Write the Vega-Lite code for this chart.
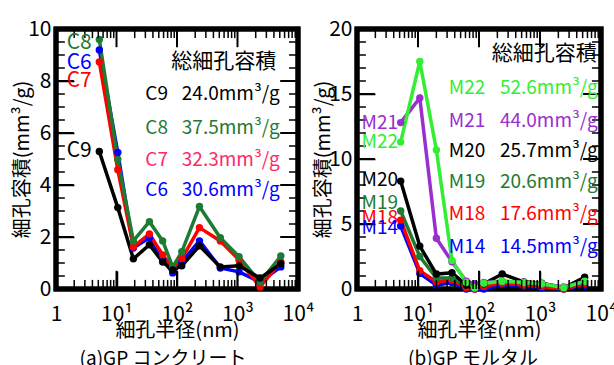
{
  "$schema": "https://vega.github.io/schema/vega-lite/v6.json",
  "padding": {"left": 10, "top": 15, "right": 0, "bottom": 0},
  "spacing": 59,
  "bounds": "flush",
  "resolve": {"scale": {"color": "independent"}},
  "config": {
    "font": "Noto Sans CJK JP",
    "view": {"stroke": "#000000", "strokeWidth": 5},
    "style": {"cell": {"stroke": "#000000", "strokeWidth": 5}},
    "axis": {"grid": false, "domain": false, "ticks": true, "tickOpacity": 1, "tickColor": "#000000", "tickWidth": 1.5, "labelColor": "black", "titleColor": "black", "labelFontSize": 21, "titleFontSize": 20, "titleFontWeight": "normal", "labelOverlap": false, "labelFlush": false, "labelBound": false},
    "text": {"font": "Noto Sans CJK JP"},
    "title": {"font": "Noto Sans CJK JP", "fontWeight": "normal", "fontSize": 19, "color": "black"}
  },
  "datasets": {
    "xMaj": [{"v":10},{"v":100},{"v":1000}],
    "xMin": [{"v":2},{"v":3},{"v":4},{"v":5},{"v":6},{"v":7},{"v":8},{"v":9},{"v":20},{"v":30},{"v":40},{"v":50},{"v":60},{"v":70},{"v":80},{"v":90},{"v":200},{"v":300},{"v":400},{"v":500},{"v":600},{"v":700},{"v":800},{"v":900},{"v":2000},{"v":3000},{"v":4000},{"v":5000},{"v":6000},{"v":7000},{"v":8000},{"v":9000}],
    "yMajA": [{"v":2},{"v":4},{"v":6},{"v":8}],
    "yMinA": [{"v":0.5},{"v":1},{"v":1.5},{"v":2.5},{"v":3},{"v":3.5},{"v":4.5},{"v":5},{"v":5.5},{"v":6.5},{"v":7},{"v":7.5},{"v":8.5},{"v":9},{"v":9.5}],
    "yMajB": [{"v":5},{"v":10},{"v":15}],
    "yMinB": [{"v":1},{"v":2},{"v":3},{"v":4},{"v":6},{"v":7},{"v":8},{"v":9},{"v":11},{"v":12},{"v":13},{"v":14},{"v":16},{"v":17},{"v":18},{"v":19}],
    "a": [
      {"s":"C6","r":5.2,"v":9.19},{"s":"C6","r":10.5,"v":5.25},{"s":"C6","r":19,"v":1.58},{"s":"C6","r":35,"v":1.97},{"s":"C6","r":58,"v":1.12},{"s":"C6","r":85,"v":0.62},{"s":"C6","r":120,"v":1.04},{"s":"C6","r":235,"v":1.85},{"s":"C6","r":520,"v":0.81},{"s":"C6","r":1060,"v":0.66},{"s":"C6","r":2350,"v":0.27},{"s":"C6","r":5200,"v":0.85},
      {"s":"C7","r":5.2,"v":8.73},{"s":"C7","r":10.5,"v":4.59},{"s":"C7","r":19,"v":1.62},{"s":"C7","r":35,"v":2.12},{"s":"C7","r":58,"v":1.31},{"s":"C7","r":85,"v":0.81},{"s":"C7","r":120,"v":1.16},{"s":"C7","r":235,"v":2.36},{"s":"C7","r":520,"v":1.85},{"s":"C7","r":1060,"v":1.12},{"s":"C7","r":2350,"v":0.08},{"s":"C7","r":5200,"v":1.04},
      {"s":"C8","r":5.2,"v":9.6},{"s":"C8","r":10.5,"v":4.98},{"s":"C8","r":19,"v":1.85},{"s":"C8","r":35,"v":2.59},{"s":"C8","r":58,"v":1.85},{"s":"C8","r":85,"v":0.85},{"s":"C8","r":120,"v":1.43},{"s":"C8","r":235,"v":3.17},{"s":"C8","r":520,"v":1.97},{"s":"C8","r":1060,"v":1.24},{"s":"C8","r":2350,"v":0.27},{"s":"C8","r":5200,"v":1.27},
      {"s":"C9","r":5.2,"v":5.29},{"s":"C9","r":10.5,"v":3.13},{"s":"C9","r":19,"v":1.16},{"s":"C9","r":35,"v":1.7},{"s":"C9","r":58,"v":1.04},{"s":"C9","r":85,"v":0.73},{"s":"C9","r":120,"v":0.89},{"s":"C9","r":235,"v":1.66},{"s":"C9","r":520,"v":0.85},{"s":"C9","r":1060,"v":0.89},{"s":"C9","r":2350,"v":0.42},{"s":"C9","r":5200,"v":0.97}
    ],
    "aLab": [
      {"s":"C8","t":"C8","y":9.46},{"s":"C6","t":"C6","y":8.69},{"s":"C7","t":"C7","y":8.0},{"s":"C9","t":"C9","y":5.29}
    ],
    "aLeg": [
      {"s":"C9","n":"C9","t":"24.0mm³/g","y":7.49},
      {"s":"C8","n":"C8","t":"37.5mm³/g","y":6.2},
      {"s":"C7L","n":"C7","t":"32.3mm³/g","y":4.98},
      {"s":"C6","n":"C6","t":"30.6mm³/g","y":3.82}
    ],
    "b": [
      {"s":"M14","r":5.2,"v":4.85},{"s":"M14","r":10.7,"v":1.2},{"s":"M14","r":20,"v":0.3},{"s":"M14","r":36,"v":0.5},{"s":"M14","r":62,"v":0.0},{"s":"M14","r":85,"v":0.0},{"s":"M14","r":120,"v":0.0},{"s":"M14","r":240,"v":0.35},{"s":"M14","r":540,"v":0.2},{"s":"M14","r":1070,"v":0.1},{"s":"M14","r":2450,"v":0.0},{"s":"M14","r":5400,"v":0.25},
      {"s":"M18","r":5.2,"v":5.3},{"s":"M18","r":10.7,"v":1.4},{"s":"M18","r":20,"v":0.55},{"s":"M18","r":36,"v":0.7},{"s":"M18","r":62,"v":0.1},{"s":"M18","r":85,"v":0.0},{"s":"M18","r":120,"v":0.2},{"s":"M18","r":240,"v":0.45},{"s":"M18","r":540,"v":0.3},{"s":"M18","r":1070,"v":0.2},{"s":"M18","r":2450,"v":0.0},{"s":"M18","r":5400,"v":0.4},
      {"s":"M19","r":5.2,"v":6.0},{"s":"M19","r":10.7,"v":2.5},{"s":"M19","r":20,"v":0.85},{"s":"M19","r":36,"v":0.85},{"s":"M19","r":62,"v":0.3},{"s":"M19","r":85,"v":0.05},{"s":"M19","r":120,"v":0.45},{"s":"M19","r":240,"v":0.6},{"s":"M19","r":540,"v":0.5},{"s":"M19","r":1070,"v":0.4},{"s":"M19","r":2450,"v":0.1},{"s":"M19","r":5400,"v":0.6},
      {"s":"M20","r":5.2,"v":8.3},{"s":"M20","r":10.7,"v":3.3},{"s":"M20","r":20,"v":1.15},{"s":"M20","r":36,"v":1.25},{"s":"M20","r":62,"v":0.3},{"s":"M20","r":85,"v":0.15},{"s":"M20","r":120,"v":0.4},{"s":"M20","r":240,"v":1.15},{"s":"M20","r":540,"v":0.55},{"s":"M20","r":1070,"v":0.45},{"s":"M20","r":2450,"v":0.1},{"s":"M20","r":5400,"v":0.9},
      {"s":"M21","r":5.2,"v":12.8},{"s":"M21","r":10.7,"v":14.7},{"s":"M21","r":20,"v":3.9},{"s":"M21","r":36,"v":2.1},{"s":"M21","r":62,"v":0.6},{"s":"M21","r":85,"v":0.4},{"s":"M21","r":120,"v":0.5},{"s":"M21","r":240,"v":0.6},{"s":"M21","r":540,"v":0.5},{"s":"M21","r":1070,"v":0.4},{"s":"M21","r":2450,"v":0.15},{"s":"M21","r":5400,"v":0.55},
      {"s":"M22","r":5.2,"v":11.3},{"s":"M22","r":10.7,"v":17.5},{"s":"M22","r":20,"v":10.7},{"s":"M22","r":36,"v":2.2},{"s":"M22","r":62,"v":0.5},{"s":"M22","r":85,"v":0.1},{"s":"M22","r":120,"v":0.45},{"s":"M22","r":240,"v":0.6},{"s":"M22","r":540,"v":0.5},{"s":"M22","r":1070,"v":0.4},{"s":"M22","r":2450,"v":0.1},{"s":"M22","r":5400,"v":0.6}
    ],
    "bLab": [
      {"s":"M21","t":"M21","y":12.8},{"s":"M22","t":"M22","y":11.3},{"s":"M20","t":"M20","y":8.4},{"s":"M19","t":"M19","y":6.6},{"s":"M18","t":"M18","y":5.5},{"s":"M14","t":"M14","y":4.7}
    ],
    "bLeg": [
      {"s":"M22","n":"M22","t":"52.6mm³/g","y":15.5},
      {"s":"M21","n":"M21","t":"44.0mm³/g","y":12.9},
      {"s":"M20","n":"M20","t":"25.7mm³/g","y":10.6},
      {"s":"M19","n":"M19","t":"20.6mm³/g","y":8.2},
      {"s":"M18","n":"M18","t":"17.6mm³/g","y":5.8},
      {"s":"M14","n":"M14","t":"14.5mm³/g","y":3.2}
    ]
  },
  "hconcat": [
    {
      "width": 242, "height": 260,
      "view": {"stroke": "#000000", "strokeWidth": 5},
      "title": {"text": "(a)GP コンクリート", "orient": "bottom", "offset": 10, "dx": -14},
      "resolve": {"axis": {"x": "independent", "y": "independent"}},
      "layer": [
        {
          "data": {"values": [{"k": 1}]},
          "mark": {"type": "rect", "filled": false, "stroke": "#000000", "strokeWidth": 5},
          "encoding": {
            "x": {"datum": 1, "type": "quantitative", "scale": {"type": "log", "domain": [1, 10000]},
              "axis": {"orient": "bottom", "title": null, "labels": false, "values": [1,10,100,1000,10000], "offset": -18, "tickSize": 18, "tickColor": "#000000"}},
            "x2": {"datum": 10000},
            "y": {"datum": 0, "type": "quantitative", "scale": {"domain": [0, 10]},
              "axis": {"orient": "left", "title": null, "labels": false, "values": [0,2,4,6,8,10], "offset": -18, "tickSize": 18, "tickColor": "#000000"}},
            "y2": {"datum": 10}
          }
        },
        {
          "data": {"name": "a"},
          "mark": {"type": "line", "strokeWidth": 3.5, "point": {"filled": true, "size": 55, "opacity": 1}},
          "encoding": {
            "x": {"field": "r", "type": "quantitative",
              "axis": {"orient": "bottom", "title": "細孔半径(nm)", "values": [1,10,100,1000,10000], "ticks": false, "tickSize": 0,
                "labelExpr": "datum.value==1?'1':datum.value==10?'10¹':datum.value==100?'10²':datum.value==1000?'10³':'10⁴'",
                "labelPadding": 14, "titlePadding": -4}},
            "y": {"field": "v", "type": "quantitative",
              "axis": {"orient": "left", "title": "細孔容積(mm³/g)", "values": [0,2,4,6,8,10], "ticks": false, "tickSize": 0,
                "labelPadding": 5, "titlePadding": -5}},
            "color": {"field": "s", "type": "nominal", "legend": null,
              "scale": {"domain": ["C6","C7","C8","C9","C7L"], "range": ["#0000ff","#ff0000","#1e7b32","#000000","#ff2a68"]}}
          }
        },
        {"data": {"name": "xMaj"}, "mark": {"type": "rule", "color": "black", "strokeWidth": 2},
         "encoding": {"x": {"field": "v", "type": "quantitative", "axis": {"orient": "bottom", "title": null, "labels": false, "ticks": false, "values": [10]}}, "y": {"datum": 0, "type": "quantitative", "axis": {"orient": "left", "title": null, "labels": false, "ticks": false, "values": [2]}}, "y2": {"datum": 0.7}}},
        {"data": {"name": "xMin"}, "mark": {"type": "rule", "color": "black", "strokeWidth": 1.5},
         "encoding": {"x": {"field": "v", "type": "quantitative", "axis": {"orient": "bottom", "title": null, "labels": false, "ticks": false, "values": [10]}}, "y": {"datum": 0, "type": "quantitative", "axis": {"orient": "left", "title": null, "labels": false, "ticks": false, "values": [2]}}, "y2": {"datum": 0.35}}},
        {"data": {"name": "xMaj"}, "mark": {"type": "rule", "color": "black", "strokeWidth": 2},
         "encoding": {"x": {"field": "v", "type": "quantitative", "axis": {"orient": "bottom", "title": null, "labels": false, "ticks": false, "values": [10]}}, "y": {"datum": 10, "type": "quantitative", "axis": {"orient": "left", "title": null, "labels": false, "ticks": false, "values": [2]}}, "y2": {"datum": 9.3}}},
        {"data": {"name": "xMin"}, "mark": {"type": "rule", "color": "black", "strokeWidth": 1.5},
         "encoding": {"x": {"field": "v", "type": "quantitative", "axis": {"orient": "bottom", "title": null, "labels": false, "ticks": false, "values": [10]}}, "y": {"datum": 10, "type": "quantitative", "axis": {"orient": "left", "title": null, "labels": false, "ticks": false, "values": [2]}}, "y2": {"datum": 9.65}}},
        {"data": {"name": "yMajA"}, "mark": {"type": "rule", "color": "black", "strokeWidth": 2},
         "encoding": {"y": {"field": "v", "type": "quantitative", "axis": {"orient": "left", "title": null, "labels": false, "ticks": false, "values": [2]}}, "x": {"datum": 1, "type": "quantitative", "axis": {"orient": "bottom", "title": null, "labels": false, "ticks": false, "values": [10]}}, "x2": {"datum": 1.97}}},
        {"data": {"name": "yMinA"}, "mark": {"type": "rule", "color": "black", "strokeWidth": 1.5},
         "encoding": {"y": {"field": "v", "type": "quantitative", "axis": {"orient": "left", "title": null, "labels": false, "ticks": false, "values": [2]}}, "x": {"datum": 1, "type": "quantitative", "axis": {"orient": "bottom", "title": null, "labels": false, "ticks": false, "values": [10]}}, "x2": {"datum": 1.4}}},
        {"data": {"name": "yMajA"}, "mark": {"type": "rule", "color": "black", "strokeWidth": 2},
         "encoding": {"y": {"field": "v", "type": "quantitative", "axis": {"orient": "left", "title": null, "labels": false, "ticks": false, "values": [2]}}, "x": {"datum": 10000, "type": "quantitative", "axis": {"orient": "bottom", "title": null, "labels": false, "ticks": false, "values": [10]}}, "x2": {"datum": 5080}}},
        {"data": {"name": "yMinA"}, "mark": {"type": "rule", "color": "black", "strokeWidth": 1.5},
         "encoding": {"y": {"field": "v", "type": "quantitative", "axis": {"orient": "left", "title": null, "labels": false, "ticks": false, "values": [2]}}, "x": {"datum": 10000, "type": "quantitative", "axis": {"orient": "bottom", "title": null, "labels": false, "ticks": false, "values": [10]}}, "x2": {"datum": 7100}}},
        {
          "data": {"name": "aLab"},
          "mark": {"type": "text", "align": "right", "baseline": "middle", "fontSize": 21},
          "encoding": {
            "x": {"datum": 3.9, "type": "quantitative", "axis": null},
            "y": {"field": "y", "type": "quantitative", "axis": null},
            "text": {"field": "t"},
            "color": {"field": "s", "type": "nominal", "legend": null}
          }
        },
        {
          "data": {"name": "aLeg"},
          "mark": {"type": "text", "align": "left", "baseline": "middle", "fontSize": 19},
          "encoding": {
            "x": {"datum": 30, "type": "quantitative", "axis": null},
            "y": {"field": "y", "type": "quantitative", "axis": null},
            "text": {"field": "n"},
            "color": {"field": "s", "type": "nominal", "legend": null}
          }
        },
        {
          "data": {"name": "aLeg"},
          "mark": {"type": "text", "align": "left", "baseline": "middle", "fontSize": 19},
          "encoding": {
            "x": {"datum": 120, "type": "quantitative", "axis": null},
            "y": {"field": "y", "type": "quantitative", "axis": null},
            "text": {"field": "t"},
            "color": {"field": "s", "type": "nominal", "legend": null}
          }
        },
        {
          "data": {"values": [{"t": "総細孔容積"}]},
          "mark": {"type": "text", "align": "right", "baseline": "middle", "fontSize": 21, "color": "black"},
          "encoding": {
            "x": {"datum": 4370, "type": "quantitative", "axis": null},
            "y": {"datum": 8.72, "type": "quantitative", "axis": null},
            "text": {"field": "t"}
          }
        }
      ]
    },
    {
      "width": 244, "height": 260,
      "view": {"stroke": "#000000", "strokeWidth": 5},
      "title": {"text": "(b)GP モルタル", "orient": "bottom", "offset": 10, "dx": -6},
      "resolve": {"axis": {"x": "independent", "y": "independent"}},
      "layer": [
        {
          "data": {"values": [{"k": 1}]},
          "mark": {"type": "rect", "filled": false, "stroke": "#000000", "strokeWidth": 5},
          "encoding": {
            "x": {"datum": 1, "type": "quantitative", "scale": {"type": "log", "domain": [1, 10000]},
              "axis": {"orient": "bottom", "title": null, "labels": false, "values": [1,10,100,1000,10000], "offset": -18, "tickSize": 18, "tickColor": "#000000"}},
            "x2": {"datum": 10000},
            "y": {"datum": 0, "type": "quantitative", "scale": {"domain": [0, 20]},
              "axis": {"orient": "left", "title": null, "labels": false, "values": [0,5,10,15,20], "offset": -18, "tickSize": 18, "tickColor": "#000000"}},
            "y2": {"datum": 20}
          }
        },
        {
          "data": {"name": "b"},
          "mark": {"type": "line", "strokeWidth": 3.5, "point": {"filled": true, "size": 55, "opacity": 1}},
          "encoding": {
            "x": {"field": "r", "type": "quantitative",
              "axis": {"orient": "bottom", "title": "細孔半径(nm)", "values": [1,10,100,1000,10000], "ticks": false, "tickSize": 0,
                "labelExpr": "datum.value==1?'1':datum.value==10?'10¹':datum.value==100?'10²':datum.value==1000?'10³':'10⁴'",
                "labelPadding": 14, "titlePadding": -4}},
            "y": {"field": "v", "type": "quantitative",
              "axis": {"orient": "left", "title": "細孔容積(mm³/g)", "values": [0,5,10,15,20], "ticks": false, "tickSize": 0,
                "labelPadding": 5, "titlePadding": -5}},
            "color": {"field": "s", "type": "nominal", "legend": null,
              "scale": {"domain": ["M14","M18","M19","M20","M21","M22"], "range": ["#0000ff","#ff0000","#1e7b32","#000000","#9a2fd0","#33ee33"]}}
          }
        },
        {"data": {"name": "xMaj"}, "mark": {"type": "rule", "color": "black", "strokeWidth": 2},
         "encoding": {"x": {"field": "v", "type": "quantitative", "axis": {"orient": "bottom", "title": null, "labels": false, "ticks": false, "values": [10]}}, "y": {"datum": 0, "type": "quantitative", "axis": {"orient": "left", "title": null, "labels": false, "ticks": false, "values": [5]}}, "y2": {"datum": 1.4}}},
        {"data": {"name": "xMin"}, "mark": {"type": "rule", "color": "black", "strokeWidth": 1.5},
         "encoding": {"x": {"field": "v", "type": "quantitative", "axis": {"orient": "bottom", "title": null, "labels": false, "ticks": false, "values": [10]}}, "y": {"datum": 0, "type": "quantitative", "axis": {"orient": "left", "title": null, "labels": false, "ticks": false, "values": [5]}}, "y2": {"datum": 0.7}}},
        {"data": {"name": "xMaj"}, "mark": {"type": "rule", "color": "black", "strokeWidth": 2},
         "encoding": {"x": {"field": "v", "type": "quantitative", "axis": {"orient": "bottom", "title": null, "labels": false, "ticks": false, "values": [10]}}, "y": {"datum": 20, "type": "quantitative", "axis": {"orient": "left", "title": null, "labels": false, "ticks": false, "values": [5]}}, "y2": {"datum": 18.6}}},
        {"data": {"name": "xMin"}, "mark": {"type": "rule", "color": "black", "strokeWidth": 1.5},
         "encoding": {"x": {"field": "v", "type": "quantitative", "axis": {"orient": "bottom", "title": null, "labels": false, "ticks": false, "values": [10]}}, "y": {"datum": 20, "type": "quantitative", "axis": {"orient": "left", "title": null, "labels": false, "ticks": false, "values": [5]}}, "y2": {"datum": 19.3}}},
        {"data": {"name": "yMajB"}, "mark": {"type": "rule", "color": "black", "strokeWidth": 2},
         "encoding": {"y": {"field": "v", "type": "quantitative", "axis": {"orient": "left", "title": null, "labels": false, "ticks": false, "values": [5]}}, "x": {"datum": 1, "type": "quantitative", "axis": {"orient": "bottom", "title": null, "labels": false, "ticks": false, "values": [10]}}, "x2": {"datum": 1.97}}},
        {"data": {"name": "yMinB"}, "mark": {"type": "rule", "color": "black", "strokeWidth": 1.5},
         "encoding": {"y": {"field": "v", "type": "quantitative", "axis": {"orient": "left", "title": null, "labels": false, "ticks": false, "values": [5]}}, "x": {"datum": 1, "type": "quantitative", "axis": {"orient": "bottom", "title": null, "labels": false, "ticks": false, "values": [10]}}, "x2": {"datum": 1.4}}},
        {"data": {"name": "yMajB"}, "mark": {"type": "rule", "color": "black", "strokeWidth": 2},
         "encoding": {"y": {"field": "v", "type": "quantitative", "axis": {"orient": "left", "title": null, "labels": false, "ticks": false, "values": [5]}}, "x": {"datum": 10000, "type": "quantitative", "axis": {"orient": "bottom", "title": null, "labels": false, "ticks": false, "values": [10]}}, "x2": {"datum": 5080}}},
        {"data": {"name": "yMinB"}, "mark": {"type": "rule", "color": "black", "strokeWidth": 1.5},
         "encoding": {"y": {"field": "v", "type": "quantitative", "axis": {"orient": "left", "title": null, "labels": false, "ticks": false, "values": [5]}}, "x": {"datum": 10000, "type": "quantitative", "axis": {"orient": "bottom", "title": null, "labels": false, "ticks": false, "values": [10]}}, "x2": {"datum": 7100}}},
        {
          "data": {"name": "bLab"},
          "mark": {"type": "text", "align": "right", "baseline": "middle", "fontSize": 19},
          "encoding": {
            "x": {"datum": 4.7, "type": "quantitative", "axis": null},
            "y": {"field": "y", "type": "quantitative", "axis": null},
            "text": {"field": "t"},
            "color": {"field": "s", "type": "nominal", "legend": null}
          }
        },
        {
          "data": {"name": "bLeg"},
          "mark": {"type": "text", "align": "left", "baseline": "middle", "fontSize": 19},
          "encoding": {
            "x": {"datum": 32, "type": "quantitative", "axis": null},
            "y": {"field": "y", "type": "quantitative", "axis": null},
            "text": {"field": "n"},
            "color": {"field": "s", "type": "nominal", "legend": null}
          }
        },
        {
          "data": {"name": "bLeg"},
          "mark": {"type": "text", "align": "left", "baseline": "middle", "fontSize": 19},
          "encoding": {
            "x": {"datum": 220, "type": "quantitative", "axis": null},
            "y": {"field": "y", "type": "quantitative", "axis": null},
            "text": {"field": "t"},
            "color": {"field": "s", "type": "nominal", "legend": null}
          }
        },
        {
          "data": {"values": [{"t": "総細孔容積"}]},
          "mark": {"type": "text", "align": "right", "baseline": "middle", "fontSize": 21, "color": "black"},
          "encoding": {
            "x": {"datum": 8500, "type": "quantitative", "axis": null},
            "y": {"datum": 18.1, "type": "quantitative", "axis": null},
            "text": {"field": "t"}
          }
        }
      ]
    }
  ]
}
